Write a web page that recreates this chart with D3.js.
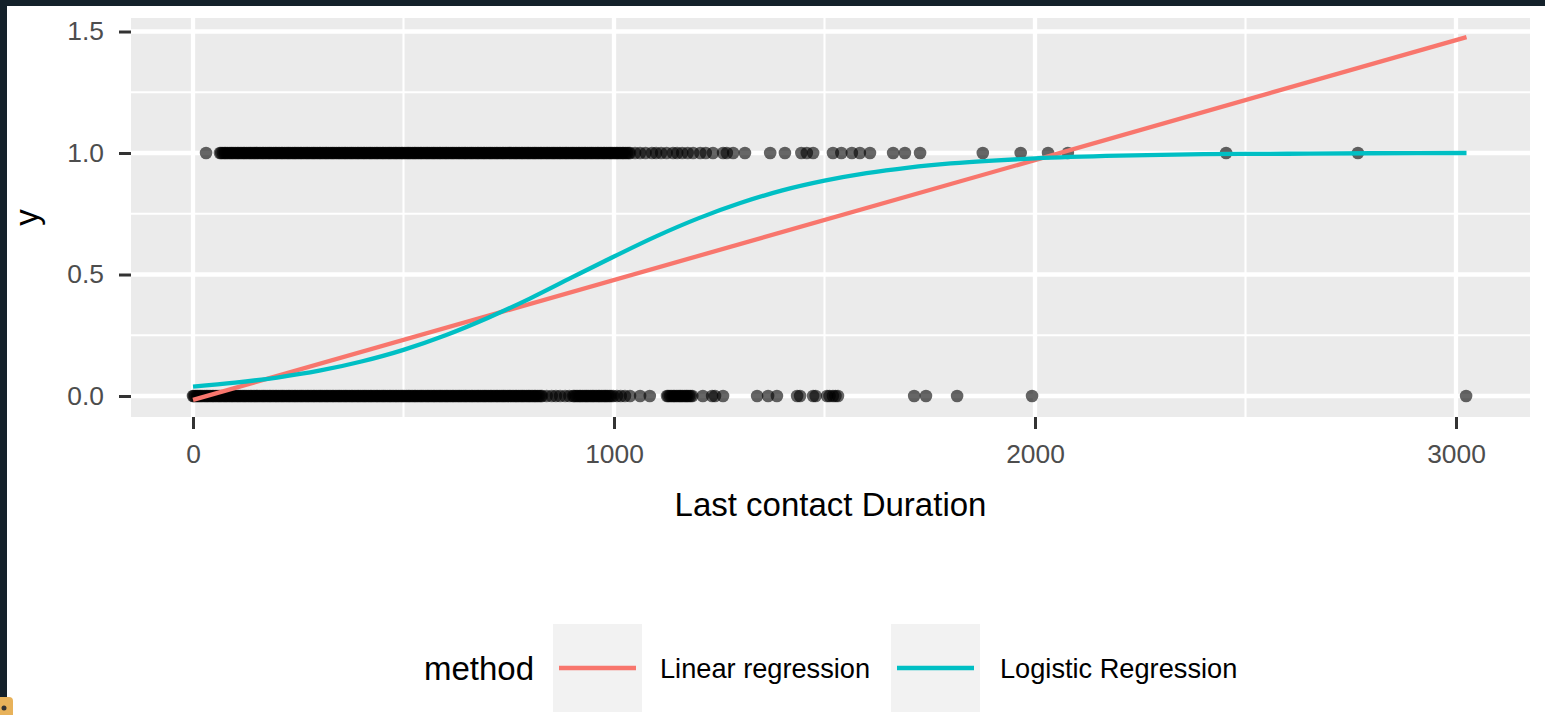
<!DOCTYPE html>
<html>
<head>
<meta charset="utf-8">
<script src="https://cdn.jsdelivr.net/npm/d3@7"></script>
<style>
  html, body { margin: 0; padding: 0; background: #ffffff; }
  svg { display: block; font-family: "Liberation Sans", Arial, sans-serif; }
</style>
</head>
<body>
<svg id="chart" width="1545" height="715"></svg>
<script>
// Last contact duration of clients who subscribed (y = 1)
const durationYes = [31,
  64, 67, 71, 75, 78, 82, 86, 90, 93, 97, 101, 105, 108, 112, 116, 120, 123, 127, 131, 135, 138, 142,
  146, 150, 153, 157, 161, 165, 168, 172, 176, 180, 183, 187, 191, 195, 198, 202, 206, 210, 213, 217,
  221, 225, 228, 232, 236, 240, 243, 247, 251, 255, 258, 262, 266, 270, 273, 277, 281, 285, 288, 292,
  296, 300, 303, 307, 311, 315, 318, 322, 326, 330, 333, 337, 341, 345, 348, 352, 356, 360, 363, 367,
  371, 375, 378, 382, 386, 390, 393, 397, 401, 405, 408, 412, 416, 420, 423, 427, 431, 435, 438, 442,
  446, 450, 453, 457, 461, 465, 468, 472, 476, 480, 483, 487, 491, 495, 498, 502, 506, 510, 513, 517,
  521, 525, 528, 532, 536, 540, 543, 547, 551, 555, 558, 562, 566, 570, 573, 577, 581, 585, 588, 592,
  596, 600, 603, 607, 611, 615, 618, 622, 626, 630, 633, 637, 641, 645, 648, 652, 656, 660, 663, 667,
  671, 675, 678, 682, 686, 690, 693, 697, 701, 705, 708, 712, 716, 720, 723, 727, 731, 735, 738, 742,
  746, 750, 753, 757, 761, 765, 768, 772, 776, 780, 783, 787, 791, 795, 798, 802, 806, 810, 813, 817,
  821, 825, 828, 832, 836, 840, 843, 847, 851, 855, 858, 862, 866, 870, 873, 877, 881, 885, 888, 892,
  896, 900, 903, 907, 911, 915, 918, 922, 926, 930, 933, 937, 941, 945, 948, 952, 956, 960, 963, 967,
  971, 975, 978, 982, 986, 990, 993, 997, 1001, 1005, 1008, 1012, 1016, 1020, 1023, 1027, 1031, 1035, 1038,
  1050, 1062, 1075, 1090, 1100, 1112, 1125, 1140, 1150, 1162, 1175, 1188, 1205, 1218, 1235, 1259,
  1268, 1283, 1311, 1371, 1406, 1445, 1458, 1473, 1520, 1540, 1565, 1584, 1608, 1663, 1691, 1727,
  1876, 1966, 2031, 2078, 2454, 2767];

// Last contact duration of clients who did not subscribe (y = 0)
const durationNo = [
  0, 2, 5, 9, 12, 16, 19, 23, 27, 31, 34, 38, 42, 46, 49, 53, 57, 61, 64, 68, 72, 76, 79, 83, 87, 91,
  94, 98, 102, 106, 109, 113, 117, 121, 124, 128, 132, 136, 139, 143, 147, 151, 154, 158, 162, 166,
  169, 173, 177, 181, 184, 188, 192, 196, 199, 203, 207, 211, 214, 218, 222, 226, 229, 233, 237, 241,
  244, 248, 252, 256, 259, 263, 267, 271, 274, 278, 282, 286, 289, 293, 297, 301, 304, 308, 312, 316,
  319, 323, 327, 331, 334, 338, 342, 346, 349, 353, 357, 361, 364, 368, 372, 376, 379, 383, 387, 391,
  394, 398, 402, 406, 409, 413, 417, 421, 424, 428, 432, 436, 439, 443, 447, 451, 454, 458, 462, 466,
  469, 473, 477, 481, 484, 488, 492, 496, 499, 503, 507, 511, 514, 518, 522, 526, 529, 533, 537, 541,
  544, 548, 552, 556, 559, 563, 567, 571, 574, 578, 582, 586, 589, 593, 597, 601, 604, 608, 612, 616,
  619, 623, 627, 631, 634, 638, 642, 646, 649, 653, 657, 661, 664, 668, 672, 676, 679, 683, 687, 691,
  694, 698, 702, 706, 709, 713, 717, 721, 724, 728, 732, 736, 739, 743, 747, 751, 754, 758, 762, 766,
  769, 773, 777, 781, 784, 788, 792, 796, 799, 803, 807, 811, 814, 818, 822, 826, 829,
  840, 852, 862, 872, 884, 894,
  903, 906, 910, 914, 918, 921, 925, 929, 933, 936, 940, 944, 948, 951, 955, 959, 963, 966, 970, 974,
  978, 981, 985, 989, 993, 998,
  1007, 1016, 1026, 1038, 1062, 1085,
  1126, 1129, 1133, 1137, 1141, 1144, 1148, 1152, 1156, 1159, 1163, 1167, 1171, 1174, 1178, 1182, 1186,
  1211, 1233, 1240, 1259, 1340, 1366, 1387,
  1435, 1442, 1473, 1479, 1506, 1512, 1520, 1526, 1532,
  1713, 1741, 1815, 1993, 3024];

// Fitted curves
const linearX = [0, 3025];
const linearY = [-0.016, 1.477];
const logisticX = [0, 100, 200, 300, 400, 500, 600, 700, 800, 900, 1000, 1100, 1200, 1300, 1400,
  1500, 1600, 1700, 1800, 1900, 2000, 2200, 2400, 2600, 2800, 3025];
const logisticY = [0.039, 0.055, 0.076, 0.104, 0.142, 0.190, 0.250, 0.321, 0.401, 0.488, 0.574,
  0.657, 0.731, 0.794, 0.846, 0.886, 0.917, 0.940, 0.957, 0.969, 0.978, 0.989, 0.995, 0.997, 0.999, 1.000];

const methods = ["Linear regression", "Logistic Regression"];
const methodColors = ["#F8766D", "#00BFC4"];

const xTicks = [0, 1000, 2000, 3000];
const xMinor = [500, 1500, 2500];
const yTicks = [0, 0.5, 1.0, 1.5];
const yMinor = [0.25, 0.75, 1.25];

const svg = d3.select("#chart");

// window frame
svg.append("rect").attr("x", 0).attr("y", 0).attr("width", 1545).attr("height", 6).attr("fill", "#14212a");
svg.append("rect").attr("x", 0).attr("y", 0).attr("width", 7).attr("height", 715).attr("fill", "#14212a");
svg.append("rect").attr("x", -6).attr("y", 697).attr("width", 19).attr("height", 24).attr("rx", 4).attr("fill", "#e8b25a");
svg.append("circle").attr("cx", 4).attr("cy", 708).attr("r", 2.5).attr("fill", "#333");

const panel = { left: 131, right: 1530, top: 18, bottom: 417 };

const x = d3.scaleLinear().domain([-147.3, 3175.8]).range([panel.left, panel.right]);
const y = d3.scaleLinear().domain([-0.0864, 1.5556]).range([panel.bottom, panel.top]);

// panel background
svg.append("rect")
  .attr("x", panel.left).attr("y", panel.top)
  .attr("width", panel.right - panel.left).attr("height", panel.bottom - panel.top)
  .attr("fill", "#ebebeb");

const grid = svg.append("g");
grid.selectAll("line.xminor").data(xMinor).join("line")
  .attr("x1", d => x(d)).attr("x2", d => x(d))
  .attr("y1", panel.top).attr("y2", panel.bottom)
  .attr("stroke", "#fff").attr("stroke-width", 2.1);
grid.selectAll("line.yminor").data(yMinor).join("line")
  .attr("y1", d => y(d)).attr("y2", d => y(d))
  .attr("x1", panel.left).attr("x2", panel.right)
  .attr("stroke", "#fff").attr("stroke-width", 2.1);
grid.selectAll("line.xmajor").data(xTicks).join("line")
  .attr("x1", d => x(d)).attr("x2", d => x(d))
  .attr("y1", panel.top).attr("y2", panel.bottom)
  .attr("stroke", "#fff").attr("stroke-width", 4.3);
grid.selectAll("line.ymajor").data(yTicks).join("line")
  .attr("y1", d => y(d)).attr("y2", d => y(d))
  .attr("x1", panel.left).attr("x2", panel.right)
  .attr("stroke", "#fff").attr("stroke-width", 4.3);

// observations
const pts = svg.append("g");
pts.selectAll("circle.no").data(durationNo).join("circle")
  .attr("cx", d => x(d)).attr("cy", y(0)).attr("r", 6.3)
  .attr("fill", "#000").attr("fill-opacity", 0.6);
pts.selectAll("circle.yes").data(durationYes).join("circle")
  .attr("cx", d => x(d)).attr("cy", y(1)).attr("r", 6.3)
  .attr("fill", "#000").attr("fill-opacity", 0.6);

// fitted lines
const line = d3.line().x(d => x(d[0])).y(d => y(d[1])).curve(d3.curveMonotoneX);
svg.append("path")
  .datum(linearX.map((v, i) => [v, linearY[i]]))
  .attr("d", line).attr("fill", "none")
  .attr("stroke", methodColors[0]).attr("stroke-width", 4.3);
svg.append("path")
  .datum(logisticX.map((v, i) => [v, logisticY[i]]))
  .attr("d", line).attr("fill", "none")
  .attr("stroke", methodColors[1]).attr("stroke-width", 4.3);

// axes
const xAxis = svg.append("g")
  .attr("transform", `translate(0,${panel.bottom})`)
  .call(d3.axisBottom(x).tickValues(xTicks).tickFormat(d3.format("d")).tickSize(12).tickPadding(15));
const yAxis = svg.append("g")
  .attr("transform", `translate(${panel.left},0)`)
  .call(d3.axisLeft(y).tickValues(yTicks).tickFormat(d3.format(".1f")).tickSize(12).tickPadding(15));
[xAxis, yAxis].forEach(g => {
  g.select(".domain").remove();
  g.selectAll(".tick line").attr("stroke", "#333333").attr("stroke-width", 3);
  g.selectAll(".tick text").attr("fill", "#4d4d4d").attr("font-size", 26.4)
    .attr("font-family", "'Liberation Sans', Arial, sans-serif");
});

// axis titles
svg.append("text")
  .attr("x", (panel.left + panel.right) / 2).attr("y", 516)
  .attr("text-anchor", "middle").attr("font-size", 33).attr("fill", "#000")
  .text("Last contact Duration");
svg.append("text")
  .attr("transform", `translate(38,${(panel.top + panel.bottom) / 2}) rotate(-90)`)
  .attr("text-anchor", "middle").attr("font-size", 33).attr("fill", "#000")
  .text("y");

// legend
const legend = svg.append("g");
legend.append("text").attr("x", 424).attr("y", 680)
  .attr("font-size", 33).attr("fill", "#000").text("method");
const keyX = [553, 891];
const labelX = [660, 1000];
methods.forEach((m, i) => {
  legend.append("rect").attr("x", keyX[i]).attr("y", 624).attr("width", 89).attr("height", 88)
    .attr("fill", "#f2f2f2");
  legend.append("line")
    .attr("x1", keyX[i] + 6).attr("x2", keyX[i] + 83)
    .attr("y1", 668).attr("y2", 668)
    .attr("stroke", methodColors[i]).attr("stroke-width", 4.3);
  legend.append("text").attr("x", labelX[i]).attr("y", 677.5)
    .attr("font-size", 27.2).attr("fill", "#000").text(m);
});
</script>
</body>
</html>
